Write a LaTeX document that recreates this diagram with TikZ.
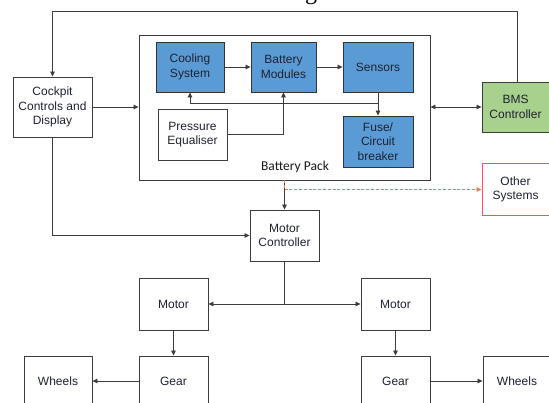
\documentclass[tikz,border=0pt]{standalone}
\usepackage{fontspec}
\setmainfont{Liberation Sans}
\newfontfamily\calibfont{Carlito}
\newfontfamily\titlefont{Liberation Serif}
\usetikzlibrary{arrows.meta}
\definecolor{boxblue}{HTML}{5B9BD5}
\definecolor{boxgreen}{HTML}{A9D18E}
\definecolor{boxred}{HTML}{FF5050}
\definecolor{dashor}{HTML}{F47B2F}
\definecolor{linegray}{HTML}{3C3C3C}
\definecolor{txt}{HTML}{1E2230}
\begin{document}
\begin{tikzpicture}[x=1pt,y=-1pt,
  box/.style={draw=linegray,line width=0.9pt,fill=white,align=center,text=txt,
    font=\fontsize{12}{14.5}\selectfont,inner sep=0pt},
  bluebox/.style={box,fill=boxblue,draw=black!80},
  conn/.style={draw=linegray,line width=0.8pt},
  arr/.style={conn,-{Triangle[length=5pt,width=4.5pt]}},
  darr/.style={conn,{Triangle[length=5pt,width=4.5pt]}-{Triangle[length=5pt,width=4.5pt]}},
  dasharr/.style={draw=dashor,line width=1pt,dash pattern=on 3pt off 1.8pt,-{Triangle[length=5pt,width=4.5pt]}}]
\useasboundingbox (0,0) rectangle (549,403);
\fill[white] (0,0) rectangle (549,403);

% cropped title fragment
\node[font=\titlefont\fontsize{24}{24}\selectfont,anchor=base,inner sep=0pt,text=black] (title) at (311,-0.5) {g};

% battery pack
\node[box,minimum width=291pt,minimum height=145pt] (pack) at (284.5,107.5) {};
\node[font=\calibfont\fontsize{13.5}{15}\selectfont,text=black!90,inner sep=0pt] (packlbl) at (295,167) {Battery Pack};

\node[bluebox,minimum width=68pt,minimum height=50pt] (cool) at (190,67) {Cooling\\System};
\node[bluebox,minimum width=65pt,minimum height=50pt] (batt) at (283.5,67) {Battery\\Modules};
\node[bluebox,minimum width=70pt,minimum height=50pt] (sens) at (378,67) {Sensors};
\node[bluebox,minimum width=70pt,minimum height=51pt] (fuse) at (378,141.5) {Fuse/\\Circuit\\breaker};
\node[box,minimum width=69pt,minimum height=51pt] (press) at (192.5,134.5) {Pressure\\Equaliser};

% outer nodes
\node[box,minimum width=79pt,minimum height=60pt] (cockpit) at (52.5,107) {Cockpit\\Controls and\\Display};
\node[box,fill=boxgreen,minimum width=67pt,minimum height=50pt] (bms) at (515.5,107) {BMS\\Controller};
\node[box,draw=boxred,minimum width=67pt,minimum height=52pt] (other) at (515.5,189.5) {Other\\Systems};
\node[box,minimum width=69pt,minimum height=51pt] (mc) at (284.5,235.5) {Motor\\Controller};
\node[box,minimum width=69pt,minimum height=52pt] (motL) at (173.5,304) {Motor};
\node[box,minimum width=69pt,minimum height=52pt] (motR) at (395.5,304) {Motor};
\node[box,minimum width=69pt,minimum height=50pt] (gearL) at (173.5,381) {Gear};
\node[box,minimum width=69pt,minimum height=50pt] (gearR) at (395.5,381) {Gear};
\node[box,minimum width=68pt,minimum height=50pt] (wheelL) at (58,381) {Wheels};
\node[box,minimum width=68pt,minimum height=50pt] (wheelR) at (517,381) {Wheels};

% coordinates
\coordinate (topline) at (0,11);
\coordinate (bus) at (378,103);

% inner connectors
\draw[arr] (cool.east) -- (batt.west);
\draw[arr] (batt.east) -- (sens.west);
\draw[conn] (sens.south) -- (bus);
\draw[arr] (bus) -- (fuse.north);
\draw[arr] (bus) -| (cool.south);
\draw[arr] (bus -| batt.south) -- (batt.south);
\draw[conn] (press.east) -| (bus -| batt.south);

% outer connectors
\draw[arr] (cockpit.east) -- (cockpit.east -| pack.west);
\draw[darr] (bms.west -| pack.east) -- (bms.west);
\draw[arr] (bms.north -| 517,0) |- (topline -| cockpit.north) -- (cockpit.north);
\draw[arr] (cockpit.south) |- (mc.west);
\draw[arr] (mc.north |- pack.south) -- (mc.north);
\draw[dasharr] ([xshift=-0.5pt]mc.north |- pack.south) |- (other.west);
\draw[arr] (mc.south) |- (motL.east);
\draw[arr] (mc.south) |- (motR.west);
\draw[arr] (motL.south) -- (gearL.north);
\draw[arr] (motR.south) -- (gearR.north);
\draw[arr] (gearL.west) -- (wheelL.east);
\draw[arr] (gearR.east) -- (wheelR.west);
\end{tikzpicture}
\end{document}
